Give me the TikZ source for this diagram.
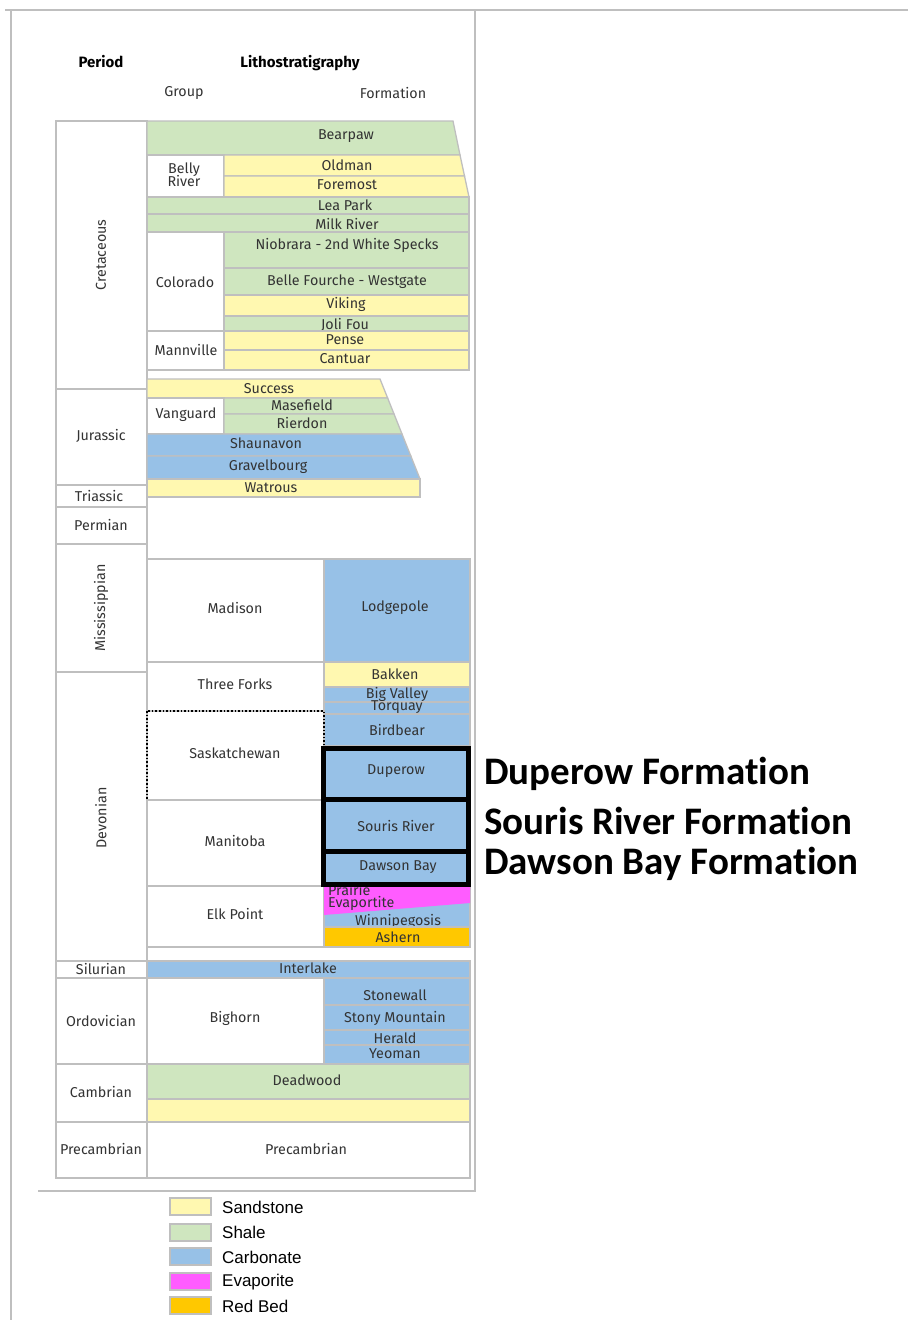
\documentclass[tikz,border=0pt]{standalone}
\usepackage{fontspec}
\setmainfont{Fira Sans}
\newfontfamily\legendfont{Liberation Sans}
\newfontfamily\calloutfont[Ligatures=NoCommon]{Carlito}

\definecolor{sandstone}{HTML}{FFF8B0}
\definecolor{shalegreen}{HTML}{CFE6BF}
\definecolor{carbblue}{HTML}{97C1E7}
\definecolor{evapmag}{HTML}{FF5CFF}
\definecolor{redbed}{HTML}{FFC800}
\definecolor{bedline}{HTML}{BFBFBF}
\definecolor{txtgray}{HTML}{333333}

\tikzset{
  bed/.style={draw=bedline,line width=1.3pt},
  sand/.style={bed,fill=sandstone},
  shale/.style={bed,fill=shalegreen},
  carb/.style={bed,fill=carbblue},
  evap/.style={fill=evapmag},
  redb/.style={bed,fill=redbed},
  grp/.style={bed,fill=white},
  lbl/.style={inner sep=0pt,text=txtgray,font=\fontsize{14.3}{16}\selectfont,align=center},
  head/.style={lbl,text=black,font=\fontsize{15}{17}\selectfont\bfseries},
  hilite/.style={draw=black,line width=5pt},
  callout/.style={anchor=west,inner sep=0pt,font=\fontsize{39}{44}\calloutfont\bfseries},
  legbox/.style={draw=bedline,line width=2pt},
  legtxt/.style={anchor=west,inner sep=0pt,font=\fontsize{17}{19}\legendfont}
}

\begin{document}
\begin{tikzpicture}[x=1pt,y=-1pt]
\useasboundingbox (0,0) rectangle (908,1320);

% frame
\draw[bedline,line width=2pt] (5,9.5) -- (908,9.5);
\draw[bedline,line width=2pt] (10.5,9.5) -- (10.5,1320);
\draw[bedline,line width=1.2pt] (475,9.5) -- (475,1191) -- (38,1191);

% headings
\node[head] (period) at (101,62) {Period};
\node[head] (litho) at (300,63) {Lithostratigraphy};
\node[lbl] (group) at (184,93) {Group};
\node[lbl] (formation) at (393,93) {Formation};

% periods
\draw[grp] (56,121) rectangle (147,389);
\draw[grp] (56,389) rectangle (147,485);
\draw[grp] (56,485) rectangle (147,507);
\draw[grp] (56,507) rectangle (147,544);
\draw[grp] (56,544) rectangle (147,672);
\draw[grp] (56,672) rectangle (147,961);
\draw[grp] (56,961) rectangle (147,978);
\draw[grp] (56,978) rectangle (147,1064);
\draw[grp] (56,1064) rectangle (147,1122);
\draw[grp] (56,1122) rectangle (147,1178);
\node[lbl,rotate=90] (cretaceous) at (101,255) {Cretaceous};
\node[lbl] (jurassic) at (101,436) {Jurassic};
\node[lbl] (triassic) at (99,496) {Triassic};
\node[lbl] (permian) at (101,525) {Permian};
\node[lbl,rotate=90] (mississippian) at (101,608) {Mississippian};
\node[lbl,rotate=90] (devonian) at (101,818) {Devonian};
\node[lbl] (silurian) at (101,969) {Silurian};
\node[lbl] (ordovician) at (101,1021) {Ordovician};
\node[lbl] (cambrian) at (101,1092) {Cambrian};
\node[lbl] (precambrianp) at (101,1149) {Precambrian};

% Cretaceous
\draw[shale] (147,121) -- (453,121) -- (460,155) -- (147,155) -- cycle;
\node[lbl] (bearpaw) at (346,136) {Bearpaw};
\draw[grp] (147,155) rectangle (224,197);
\node[lbl] (bellyriver) at (184,175) {Belly\\[-3pt]River};
\draw[sand] (224,155) -- (460,155) -- (464.5,176) -- (224,176) -- cycle;
\node[lbl] (oldman) at (347,165) {Oldman};
\draw[sand] (224,176) -- (464.5,176) -- (469,197) -- (224,197) -- cycle;
\node[lbl] (foremost) at (347,185) {Foremost};
\draw[shale] (147,197) rectangle (469,214);
\node[lbl] (leapark) at (345,205) {Lea Park};
\draw[shale] (147,214) rectangle (469,232);
\node[lbl] (milkriver) at (347,224) {Milk River};
\draw[grp] (147,232) rectangle (224,331);
\node[lbl] (colorado) at (185,282) {Colorado};
\draw[shale] (224,232) rectangle (469,268);
\node[lbl] (niobrara) at (347,245) {Niobrara - 2nd White Specks};
\draw[shale] (224,268) rectangle (469,295);
\node[lbl] (bellefourche) at (347,282) {Belle Fourche - Westgate};
\draw[sand] (224,295) rectangle (469,316);
\node[lbl] (viking) at (346,304) {Viking};
\draw[shale] (224,316) rectangle (469,331);
\node[lbl] (jolifou) at (345,325) {Joli Fou};
\draw[grp] (147,331) rectangle (224,370);
\node[lbl] (mannville) at (186,350) {Mannville};
\draw[sand] (224,331) rectangle (469,350);
\node[lbl] (pense) at (345,340) {Pense};
\draw[sand] (224,350) rectangle (469,370);
\node[lbl] (cantuar) at (345,359) {Cantuar};

% Jurassic
\draw[sand] (147,379) -- (380,379) -- (387.6,398) -- (147,398) -- cycle;
\node[lbl] (success) at (269,389) {Success};
\draw[grp] (147,398) rectangle (224,434);
\node[lbl] (vanguard) at (186,415) {Vanguard};
\draw[shale] (224,398) -- (387.6,398) -- (394,414) -- (224,414) -- cycle;
\node[lbl] (masefield) at (302,405) {Masefield};
\draw[shale] (224,414) -- (394,414) -- (402,434) -- (224,434) -- cycle;
\node[lbl] (rierdon) at (302,423) {Rierdon};
\draw[carb] (147,434) -- (402,434) -- (410.8,456) -- (147,456) -- cycle;
\node[lbl] (shaunavon) at (266,443) {Shaunavon};
\draw[carb] (147,456) -- (410.8,456) -- (420,479) -- (147,479) -- cycle;
\node[lbl] (gravelbourg) at (268,467) {Gravelbourg};
\draw[sand] (147,479) rectangle (420,497);
\node[lbl] (watrous) at (271,488) {Watrous};

% Mississippian and Devonian
\draw[grp] (147,559) rectangle (324,662);
\node[lbl] (madison) at (235,608) {Madison};
\draw[carb] (324,559) rectangle (470,662);
\node[lbl] (lodgepole) at (395,608) {Lodgepole};
\draw[grp] (147,662) rectangle (324,711);
\node[lbl] (threeforks) at (235,684) {Three Forks};
\draw[sand] (324,662) rectangle (470,687);
\node[lbl] (bakken) at (395,674) {Bakken};
\draw[carb] (324,687) rectangle (470,702);
\node[lbl] (bigvalley) at (397,694) {Big Valley};
\draw[carb] (324,702) rectangle (470,714);
\node[lbl] (torquay) at (397,707) {Torquay};
\draw[carb] (324,714) rectangle (470,746);
\node[lbl] (birdbear) at (397,730) {Birdbear};
\draw[black,dotted,line width=1.6pt] (147,711) rectangle (324,800);
\node[lbl] (saskatchewan) at (235,753) {Saskatchewan};
\draw[carb] (324,746) rectangle (470,800);
\node[lbl] (duperow) at (396,771) {Duperow};
\draw[grp] (147,800) rectangle (324,886);
\node[lbl] (manitoba) at (235,841) {Manitoba};
\draw[carb] (324,800) rectangle (470,852);
\node[lbl] (souris) at (396,826) {Souris River};
\draw[carb] (324,852) rectangle (470,886);
\node[lbl] (dawson) at (398,867) {Dawson Bay};
\draw[grp] (147,886) rectangle (324,947);
\node[lbl] (elkpoint) at (235,914) {Elk Point};
\draw[carb] (324,886) rectangle (470,927);
\fill[evap] (324,886) -- (470,886) -- (470,903) -- (324,915) -- cycle;
\node[lbl,align=left,anchor=north west] (prairie) at (328,884) {Prairie\\[-4pt]Evaportite};
\node[lbl] (winnipegosis) at (398,921) {Winnipegosis};
\draw[redb] (324,927) rectangle (470,947);
\node[lbl] (ashern) at (398,937) {Ashern};

% highlighted formations
\draw[hilite] (323.5,748) rectangle (468,799.5);
\draw[hilite] (323.5,799.5) rectangle (468,851.5);
\draw[hilite] (323.5,851.5) rectangle (468,884);
\node[callout] (duperowf) at (484,774) {Duperow Formation};
\node[callout] (sourisf) at (484,821) {Souris River Formation};
\node[callout] (dawsonf) at (484,864) {Dawson Bay Formation};

% Silurian to Precambrian
\draw[carb] (147,961) rectangle (470,978);
\node[lbl] (interlake) at (308,968) {Interlake};
\draw[grp] (147,978) rectangle (324,1064);
\node[lbl] (bighorn) at (235,1018) {Bighorn};
\draw[carb] (324,978) rectangle (470,1005);
\node[lbl] (stonewall) at (395,995) {Stonewall};
\draw[carb] (324,1005) rectangle (470,1030);
\node[lbl] (stonymtn) at (395,1018) {Stony Mountain};
\draw[carb] (324,1030) rectangle (470,1045);
\node[lbl] (herald) at (395,1038) {Herald};
\draw[carb] (324,1045) rectangle (470,1064);
\node[lbl] (yeoman) at (395,1054) {Yeoman};
\draw[shale] (147,1064) rectangle (470,1099);
\node[lbl] (deadwood) at (307,1080) {Deadwood};
\draw[sand] (147,1099) rectangle (470,1122);
\draw[grp] (147,1122) rectangle (470,1178);
\node[lbl] (precambrian) at (306,1149) {Precambrian};

% legend
\draw[legbox,fill=sandstone] (170,1198) rectangle (211,1215);
\node[legtxt] (legsand) at (222,1207) {Sandstone};
\draw[legbox,fill=shalegreen] (170,1224) rectangle (211,1241);
\node[legtxt] (legshale) at (222,1232) {Shale};
\draw[legbox,fill=carbblue] (170,1248) rectangle (211,1265);
\node[legtxt] (legcarb) at (222,1257) {Carbonate};
\draw[legbox,fill=evapmag] (170,1273) rectangle (211,1290);
\node[legtxt] (legevap) at (222,1282) {Evaporite};
\draw[legbox,fill=redbed] (170,1297) rectangle (211,1314);
\node[legtxt] (legred) at (222,1306) {Red Bed};
\end{tikzpicture}
\end{document}
